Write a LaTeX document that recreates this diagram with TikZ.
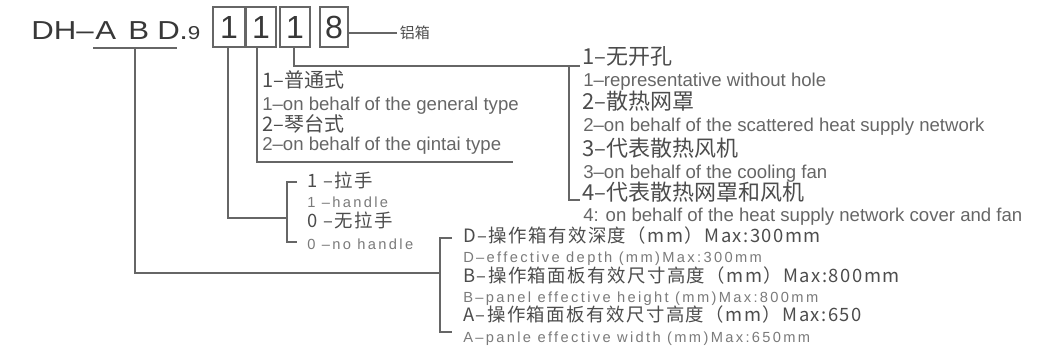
\documentclass[tikz,border=0pt]{standalone}
\usepackage{fontspec}
\setmainfont{Liberation Sans}
\newfontfamily\cjk{Noto Sans CJK SC}
\newfontfamily\cjkwide[LetterSpace=8]{Noto Sans CJK SC}
\newfontfamily\latwide[LetterSpace=16]{Liberation Sans}
\newfontfamily\titlefont[FakeStretch=1.2]{Liberation Sans}
\usetikzlibrary{positioning}

\definecolor{titlecol}{gray}{0.22}
\definecolor{zhcol}{gray}{0.30}
\definecolor{encol}{gray}{0.40}
\definecolor{widecol}{gray}{0.48}
\definecolor{linecol}{gray}{0.40}

\begin{document}
\begin{tikzpicture}[x=0.75pt,y=-0.75pt,
    link/.style={draw=linecol, line width=1.2pt},
    digitbox/.style={draw=linecol, line width=1.1pt, minimum height=30pt, minimum width=22.5pt,
      inner sep=0pt, text=titlecol, font=\fontsize{24pt}{24pt}\selectfont},
    titletxt/.style={anchor=base west, inner sep=0pt, text=titlecol, font=\titlefont\fontsize{19.5pt}{20pt}\selectfont},
    txt/.style={anchor=west, inner sep=0pt, text height=0.7em, text depth=0pt},
    zhtype/.style={txt, text=zhcol, font=\cjk\fontsize{15pt}{18pt}\selectfont},
    zhfan/.style={txt, text=zhcol, font=\cjk\fontsize{16.5pt}{18pt}\selectfont},
    entxt/.style={txt, text=encol, font=\fontsize{13.95pt}{16pt}\selectfont},
    zhwide/.style={txt, text=zhcol, font=\cjkwide\fontsize{13.8pt}{16pt}\selectfont},
    enwide/.style={txt, text=widecol, font=\latwide\fontsize{11pt}{12pt}\selectfont}]
    \useasboundingbox (0,0) rectangle (1045,349);

    % Define the positions of the nodes
    \node[titletxt] (dh) at (31,40) {DH–};
    \node[titletxt] (lA) at (95,40) {A};
    \node[titletxt] (lB) at (128,40) {B};
    \node[titletxt] (lD) at (157,40) {D};
    \node[titletxt] (dot9) at (179,40) {.{\fontsize{14pt}{14pt}\selectfont 9}};

    \node[digitbox, minimum width=24pt] (b1) at (229,27) {1};
    \node[digitbox] (b2) at (261,27) {1};
    \node[digitbox] (b3) at (295,27) {1};
    \node[digitbox, minimum width=21pt] (b4) at (334,27) {8};
    \node[anchor=west, inner sep=2pt, text=zhcol, font=\cjk\fontsize{11.25pt}{12pt}\selectfont] (alu) at (397,33) {铝箱};

    % panel size
    \coordinate (ulL) at (93,48);
    \coordinate (ulR) at (177,48);
    \coordinate (abdmid) at (135,48);
    \coordinate (dimjoin) at (440,273);
    \coordinate (dimT) at (452,238);
    \coordinate (dimB) at (452,332);

    % handle
    \coordinate (handjoin) at (287,218);
    \coordinate (handT) at (297,182);
    \coordinate (handB) at (297,242);

    % type
    \coordinate (typeend) at (513,162);

    % holes and fan
    \coordinate (fanjoin) at (569,66);
    \coordinate (fanT) at (580,66);
    \coordinate (fanB) at (580,200);

    \node[zhfan] (fanzh1) at (582,60) {1–无开孔};
    \node[entxt] (fanen1) at (583,82) {1–representative without hole};
    \node[zhfan] (fanzh2) at (582,105) {2–散热网罩};
    \node[entxt] (fanen2) at (583,127) {2–on behalf of the scattered heat supply network};
    \node[zhfan] (fanzh3) at (582,152) {3–代表散热风机};
    \node[entxt] (fanen3) at (583,174) {3–on behalf of the cooling fan};
    \node[zhfan] (fanzh4) at (582,196) {4–代表散热网罩和风机};
    \node[entxt] (fanen4) at (583,217) {4: on behalf of the heat supply network cover and fan};

    \node[zhtype] (typezh1) at (262,83) {1–普通式};
    \node[entxt] (typeen1) at (262,106) {1–on behalf of the general type};
    \node[zhtype] (typezh2) at (262,127) {2–琴台式};
    \node[entxt] (typeen2) at (262,146) {2–on behalf of the qintai type};

    \node[zhwide] (handzh1) at (307,183) {1 –拉手};
    \node[enwide] (handen1) at (307,203) {1 –handle};
    \node[zhwide] (handzh0) at (307,223) {0 –无拉手};
    \node[enwide] (handen0) at (307,245) {0 –no handle};

    \node[zhwide] (dimzhD) at (463,238) {D–操作箱有效深度（mm）Max:300mm};
    \node[enwide] (dimenD) at (463,258) {D–effective depth (mm)Max:300mm};
    \node[zhwide] (dimzhB) at (463,278) {B–操作箱面板有效尺寸高度（mm）Max:800mm};
    \node[enwide] (dimenB) at (463,298) {B–panel effective height (mm)Max:800mm};
    \node[zhwide] (dimzhA) at (463,317) {A–操作箱面板有效尺寸高度（mm）Max:650};
    \node[enwide] (dimenA) at (463,338) {A–panle effective width (mm)Max:650mm};

    % Draw the edges
    \draw[link] (alu.west) -- (alu.west -| b4.east);

    \draw[link] (ulL) -- (ulR);
    \draw[link] (abdmid) |- (dimjoin);
    \draw[link] (dimT) -| (dimjoin) |- (dimB);

    \draw[link] ([xshift=-0.75pt]b1.south) |- (handjoin);
    \draw[link] (handT) -| (handjoin) |- (handB);

    \draw[link] ([xshift=-3pt]b2.south) |- (typeend);

    \draw[link] ([xshift=-0.75pt]b3.south) |- (fanT);
    \draw[link] (fanjoin) |- (fanB);
\end{tikzpicture}
\end{document}
